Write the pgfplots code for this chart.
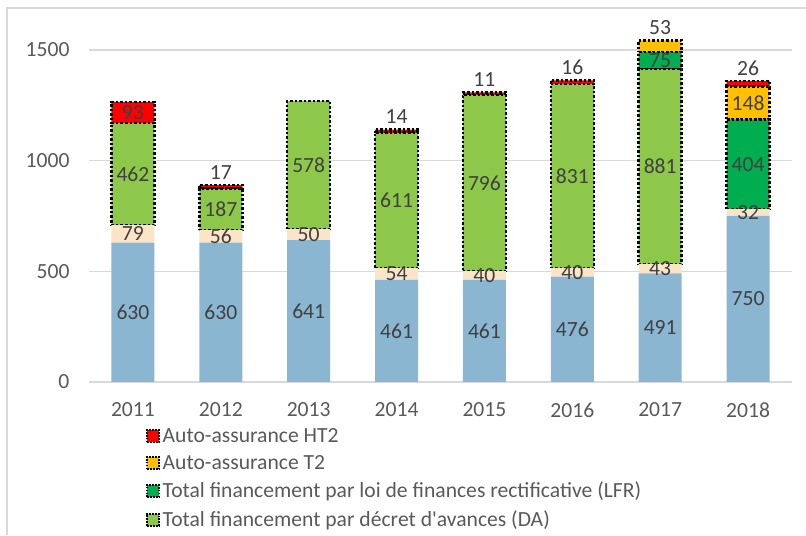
\documentclass[border=0pt]{standalone}
\usepackage{fontspec}
\setmainfont{Carlito}
\usepackage{pgfplots}
\pgfplotsset{compat=1.18}
\definecolor{cBase}{HTML}{8AB6D1}
\definecolor{cAjust}{HTML}{FCE4C6}
\definecolor{cDA}{HTML}{8DC84A}
\definecolor{cLFR}{HTML}{00AD4F}
\definecolor{cT2}{HTML}{FFC000}
\definecolor{cHT2}{HTML}{FF0000}
\definecolor{cGrid}{HTML}{D9D9D9}
\definecolor{cTick}{HTML}{595959}
\definecolor{cLabel}{HTML}{404040}
\newcommand{\yu}{0.166006} % pt per y unit: 272.25pt / 1640
\newcommand{\chartfont}{\fontsize{16.2}{18}\selectfont}
\pgfplotsset{
  dotbar/.style={draw=black, line width=1.9pt, dash pattern=on 1.9pt off 1.5pt},
}
\begin{document}
\begin{tikzpicture}[font=\chartfont]
\path[use as bounding box] (0,0) rectangle (604.5pt,401.25pt);
% outer chart frame (only top and left edges are visible)
\draw[cGrid, line width=0.8pt] (5.25pt,0) -- (5.25pt,395.25pt) -- (604.5pt,395.25pt);
\begin{axis}[
  at={(66.75pt,114.75pt)}, anchor=south west,
  scale only axis, width=527.25pt, height=272.25pt,
  ybar stacked, bar width=0.49,
  xmin=-0.5, xmax=7.5, ymin=0, ymax=1640,
  axis x line=bottom, axis y line=left,
  axis line style={draw=none}, tick style={draw=none},
  ymajorgrids, grid style={cGrid, line width=0.9pt},
  ytick={0,500,1000,1500},
  xtick={0,...,7},
  xticklabels={2011,2012,2013,2014,2015,2016,2017,2018},
  tick label style={font=\chartfont, text=cTick},
  yticklabel style={xshift=-9pt},
  xticklabel style={yshift=-10pt},
  /pgf/number format/assume math mode=true,
  /pgf/number format/set thousands separator={},
  legend style={at={(0.075,-0.112)}, anchor=north west, draw=none, fill=none,
                font=\chartfont, text=cTick, row sep=4.2pt,
                /tikz/every even column/.append style={column sep=3pt}},
  legend cell align=left,
  reverse legend,
  legend image code/.code={\draw[#1, line width=1.3pt, dash pattern=on 1.3pt off 0.9pt] (0pt,-4.6pt) rectangle (9.2pt,4.6pt);},
  visualization depends on={value \thisrow{y} \as \rawy},
  visualization depends on={value \thisrow{pos} \as \lpos},
  nodes near coords={\ifnum\rawy>0 \rawy\fi},
  every node near coord/.append style={font=\chartfont, text=cLabel, anchor=center,
      yshift={\lpos*(0.5*\rawy*\yu+9.5)*1pt}},
]
% base allocation
\addplot[fill=cBase, draw=none, forget plot] table[x=x, y=y, row sep=\\] {
x y pos \\ 0 630 0 \\ 1 630 0 \\ 2 641 0 \\ 3 461 0 \\ 4 461 0 \\ 5 476 0 \\ 6 491 0 \\ 7 750 0 \\
};
% adjustment
\addplot[fill=cAjust, draw=none, forget plot] table[x=x, y=y, row sep=\\] {
x y pos \\ 0 79 0 \\ 1 56 0 \\ 2 50 0 \\ 3 54 0 \\ 4 40 0 \\ 5 40 0 \\ 6 43 0 \\ 7 32 0 \\
};
% DA
\addplot[fill=cDA, dotbar] table[x=x, y=y, row sep=\\] {
x y pos \\ 0 462 0 \\ 1 187 0 \\ 2 578 0 \\ 3 611 0 \\ 4 796 0 \\ 5 831 0 \\ 6 881 0 \\ 7 0 0 \\
};
\addlegendentry{Total financement par décret d\textquotesingle avances (DA)}
% LFR
\addplot[fill=cLFR, dotbar] table[x=x, y=y, row sep=\\] {
x y pos \\ 0 0 0 \\ 1 0 0 \\ 2 0 0 \\ 3 0 0 \\ 4 0 0 \\ 5 0 0 \\ 6 75 0 \\ 7 404 0 \\
};
\addlegendentry{Total financement par loi de finances rectificative (LFR)}
% T2
\addplot[fill=cT2, dotbar] table[x=x, y=y, row sep=\\] {
x y pos \\ 0 0 0 \\ 1 0 0 \\ 2 0 0 \\ 3 0 0 \\ 4 0 0 \\ 5 0 0 \\ 6 53 1 \\ 7 148 0 \\
};
\addlegendentry{Auto-assurance T2}
% HT2
\addplot[fill=cHT2, dotbar] table[x=x, y=y, row sep=\\] {
x y pos \\ 0 93 0 \\ 1 17 1 \\ 2 0 0 \\ 3 14 1 \\ 4 11 1 \\ 5 16 1 \\ 6 0 0 \\ 7 26 1 \\
};
\addlegendentry{Auto-assurance HT2}
\end{axis}
\end{tikzpicture}
\end{document}
